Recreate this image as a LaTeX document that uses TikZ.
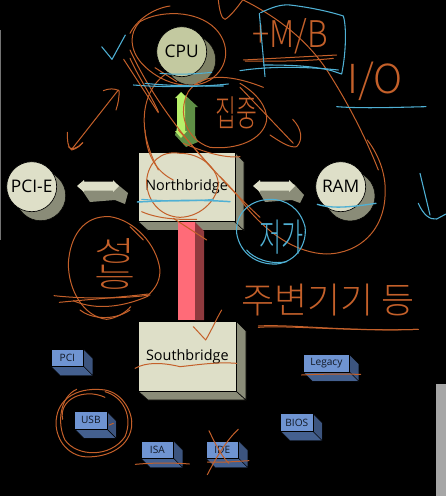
\documentclass[tikz,border=0pt]{standalone}
\usepackage{fontspec}
\setmainfont{Open Sans}
\newfontfamily\cjk{Noto Sans CJK KR Light}
\definecolor{pen}{HTML}{C4602A}
\definecolor{bluepen}{HTML}{4FB0D4}
\definecolor{cream}{HTML}{DEDFC8}
\definecolor{creamdk}{HTML}{8A8C78}
\definecolor{creamcpu}{HTML}{C3C9A0}
\definecolor{cpudk}{HTML}{7F8266}
\definecolor{chipblue}{HTML}{6F94D2}
\definecolor{chipdk}{HTML}{44608F}
\definecolor{redlink}{HTML}{FF6B78}
\definecolor{reddk}{HTML}{8F3A3E}
\definecolor{greenlt}{HTML}{B8F06A}
\definecolor{greendk}{HTML}{5E8F45}
\tikzset{
  orangepen/.style={draw=pen,line width=0.75pt,line cap=round,line join=round},
  bluestroke/.style={draw=bluepen,line width=0.8pt,line cap=round,line join=round},
  handorange/.style={text=pen,inner sep=0pt,font=\cjk},
  handblue/.style={text=bluepen,inner sep=0pt,font=\cjk},
  bigfront/.style={fill=cream,draw=black,line width=0.5pt},
  chipfront/.style={fill=chipblue,draw=black,line width=0.5pt},
  biglabel/.style={inner sep=0pt,font=\fontsize{10.8pt}{12pt}\selectfont,text=black},
  roundlabel/.style={inner sep=0pt,font=\fontsize{13pt}{14pt}\selectfont,text=black},
}
\newcommand{\chip}[6]{% name, x0, y0, x1, y1, text
  \fill[chipdk,draw=black,line width=0.3pt] (#2,#5) -- (#4,#5) -- (#4+9.5,#5+9.5) -- (#2+9.5,#5+9.5) -- cycle;
  \fill[chipdk!88!black,draw=black,line width=0.3pt] (#4,#3) -- (#4+9.5,#3+9.5) -- (#4+9.5,#5+9.5) -- (#4,#5) -- cycle;
  \node[chipfront,minimum width=#4 pt*0.75-#2 pt*0.75,minimum height=#5 pt*0.75-#3 pt*0.75,inner sep=0pt,anchor=north west,text=black!75!chipdk,font=\fontsize{7.6pt}{8pt}\selectfont] (#1) at (#2,#3) {#6};
}
\begin{document}
\begin{tikzpicture}[x=0.75pt,y=-0.75pt]
\useasboundingbox (0,0) rectangle (446,496);
\fill[black] (0,0) rectangle (446,496);
% slide edges
\fill[black!55] (0,30) rectangle (1,240);
\fill[black!35] (435.7,384) rectangle (446,496);
% CPU
\fill[cpudk,draw=black,line width=0.4pt] (190.7,60) circle (25);
\node[circle,fill=creamcpu,draw=black,line width=0.5pt,minimum size=37.5pt,inner sep=0pt,roundlabel] (cpu) at (181.7,51.7) {CPU};
% PCI-E
\fill[creamdk,draw=black,line width=0.4pt] (40.7,195.7) circle (25);
\node[circle,fill=cream,draw=black,line width=0.5pt,minimum size=37.5pt,inner sep=0pt,roundlabel] (pcie) at (31.7,186.7) {PCI-E};
% RAM
\fill[creamdk,draw=black,line width=0.4pt] (350,196) circle (25);
\node[circle,fill=cream,draw=black,line width=0.5pt,minimum size=37.5pt,inner sep=0pt,roundlabel] (ram) at (340.7,186.7) {RAM};
% Northbridge
\fill[creamdk,draw=black,line width=0.4pt] (138,221.5) -- (234.5,221.5) -- (244,230.5) -- (148,230.5) -- cycle;
\fill[creamdk,draw=black,line width=0.4pt] (234.5,152) -- (244,162) -- (244,230.5) -- (234.5,221.5) -- cycle;
\node[bigfront,minimum width=72.4pt,minimum height=52pt,inner sep=0pt,biglabel,anchor=north west] (nb) at (138,152) {Northbridge};
% Southbridge
\fill[creamdk,draw=black,line width=0.4pt] (138,391) -- (236,391) -- (246,400) -- (148,400) -- cycle;
\fill[creamdk,draw=black,line width=0.4pt] (236,321) -- (246,331) -- (246,400) -- (236,391) -- cycle;
\node[bigfront,minimum width=73.5pt,minimum height=52.5pt,inner sep=0pt,biglabel,anchor=north west] (sb) at (138,321) {Southbridge};
% red link
\fill[reddk] (195,222) -- (204,231) -- (204,320) -- (195,320) -- cycle;
\fill[redlink] (178,222) rectangle (195,320);
% green link
\fill[greendk] (185,95) -- (198,107) -- (195,107) -- (195,135) -- (198,142) -- (186,147) -- (175,135) -- cycle;
\fill[greenlt] (181,92) -- (187,98) -- (185,98) -- (185,131) -- (187,131) -- (181,138) -- (175,131) -- (177,131) -- (177,98) -- (175,98) -- cycle;
% PCI-E / NB link
\fill[creamdk] (82,190) -- (90,202) -- (115,200) -- (125,204) -- (128,193) -- (117,184) -- cycle;
\fill[cream] (77,186) -- (84,180) -- (84,181.7) -- (113,181.7) -- (113,180) -- (119,186) -- (113,192) -- (113,190.7) -- (84,190.7) -- (84,192) -- cycle;
% RAM / NB link
\fill[creamdk] (258,190) -- (265,202) -- (292,200) -- (300,203) -- (304,195) -- (294,184) -- cycle;
\fill[cream] (253,186) -- (260,180) -- (260,181.7) -- (289,181.7) -- (289,180) -- (295,186) -- (289,192) -- (289,190.7) -- (260,190.7) -- (260,192) -- cycle;
% chips
\chip{pci}{50.7}{349}{83.3}{366}{PCI}
\chip{usb}{74.3}{411.3}{106.7}{428.7}{USB}
\chip{isa}{140.7}{440.7}{173.3}{458}{ISA}
\chip{ide}{205.7}{440.7}{238.3}{458}{IDE}
\chip{bios}{280.3}{413.3}{312.7}{431}{BIOS}
\chip{legacy}{302.7}{354.3}{349.3}{371.7}{Legacy}
% ------- handwriting, top zone (zoom 1 coordinates)
\begin{scope}[shift={(130,0)},scale=1/3]
\draw[orangepen] (265,0) .. controls (268,30) and (275,58) .. (285,58) .. controls (300,50) and (320,25) .. (338,0);
\draw[orangepen] (340,0) .. controls (420,40) and (530,110) .. (600,225) .. controls (660,320) and (710,420) .. (745,510);
\draw[orangepen] (30,65) .. controls (90,30) and (200,30) .. (255,85) .. controls (300,130) and (300,200) .. (240,240) .. controls (180,275) and (90,250) .. (35,190) .. controls (0,150) and (-5,100) .. (30,65);
\draw[orangepen] (0,100) .. controls (20,60) and (70,25) .. (120,18);
\draw[orangepen] (0,175) .. controls (30,240) and (60,280) .. (85,335);
\draw[orangepen] (0,150) .. controls (60,280) and (150,400) .. (250,510);
\draw[orangepen] (75,203) -- (140,245);
\draw[orangepen] (110,220) .. controls (50,260) and (30,340) .. (50,420) .. controls (60,460) and (75,490) .. (85,510);
\draw[orangepen] (400,262) .. controls (320,230) and (220,210) .. (175,275) .. controls (140,340) and (170,420) .. (240,442) .. controls (320,450) and (400,420) .. (410,360) .. controls (412,320) and (380,280) .. (330,250);
\draw[orangepen] (330,262) -- (490,430);
\draw[orangepen] (420,405) .. controls (450,425) and (480,445) .. (500,440) .. controls (520,420) and (515,385) .. (488,358);
\draw[orangepen] (160,430) .. controls (220,455) and (280,475) .. (330,470);
\node[handorange,font=\cjk\fontsize{17pt}{17pt}\selectfont] (focus) at (320,340) {\scalebox{1}[1.6]{집중}};
% +M/B
\node[handorange,font=\cjk\fontsize{24pt}{24pt}\selectfont] (mb) at (480,110) {\scalebox{1}[1.15]{+M/B}};
\draw[orangepen] (340,180) -- (620,165);
\draw[orangepen] (345,183) .. controls (450,185) and (550,182) .. (610,175);
\node[handorange,font=\cjk\fontsize{30pt}{30pt}\selectfont] (io) at (735,245) {I/O};
% blue
\draw[bluestroke] (388,40) -- (405,230);
\draw[bluestroke] (392,38) .. controls (420,25) and (450,12) .. (480,15) .. controls (540,22) and (600,35) .. (640,48) .. controls (650,80) and (648,160) .. (635,222) -- (605,212) .. controls (540,196) and (470,195) .. (400,195);
\draw[bluestroke] (330,212) .. controls (420,198) and (530,200) .. (625,210);
\draw[bluestroke] (10,255) .. controls (100,262) and (200,262) .. (295,252);
\draw[bluestroke] (45,250) .. controls (120,258) and (200,258) .. (280,258);
\draw[bluestroke] (90,220) .. controls (140,225) and (200,222) .. (245,217);
\draw[bluestroke] (620,320) .. controls (700,326) and (800,322) .. (888,320);
\end{scope}
% ------- zoom 5 coordinates
\begin{scope}[shift={(50,0)},scale=1/3]
\draw[bluestroke] (155,140) -- (186,178) -- (226,105);
\draw[orangepen] (65,448) -- (205,270);
\draw[orangepen] (160,272) .. controls (175,265) and (195,265) .. (207,272) .. controls (208,290) and (205,310) .. (198,330);
\draw[orangepen] (52,397) .. controls (52,420) and (52,440) .. (65,450) .. controls (78,447) and (90,438) .. (98,428);
\draw[orangepen] (221,178) -- (325,338);
\end{scope}
% ------- Northbridge circle, zoom 6 coordinates
\begin{scope}[shift={(130,130)},scale=1/3]
\draw[orangepen] (130,150) .. controls (90,130) and (50,90) .. (45,0);
\draw[orangepen] (150,70) .. controls (90,60) and (55,100) .. (50,150) .. controls (48,210) and (90,260) .. (150,262) .. controls (220,260) and (265,200) .. (265,160) .. controls (260,110) and (210,70) .. (150,70);
\draw[orangepen] (35,245) .. controls (80,265) and (140,270) .. (200,268);
\draw[orangepen] (145,0) .. controls (200,60) and (280,160) .. (390,262);
\draw[orangepen] (0,290) -- (40,330);
\draw[orangepen] (130,265) -- (230,330);
\draw[bluestroke,line width=1.1pt] (22,216) .. controls (110,212) and (200,208) .. (300,215);
\draw[bluestroke] (35,208) .. controls (110,214) and (190,214) .. (250,208);
\end{scope}
% ------- zoom 2 coordinates: left circle
\begin{scope}[shift={(0,140)},scale=1/3]
\draw[orangepen] (205,20) .. controls (210,32) and (235,25) .. (248,8);
\draw[orangepen] (330,230) .. controls (250,225) and (210,290) .. (205,370) .. controls (205,450) and (250,530) .. (320,538) .. controls (350,535) and (380,515) .. (392,500);
\draw[orangepen] (330,230) .. controls (400,240) and (470,310) .. (480,390) .. controls (480,430) and (460,450) .. (445,465);
\draw[orangepen] (162,467) .. controls (260,478) and (380,475) .. (450,465);
\draw[orangepen] (178,487) .. controls (270,478) and (380,470) .. (445,462);
\draw[orangepen] (220,482) .. controls (270,505) and (350,510) .. (445,468);
\node[handorange,font=\cjk\fontsize{21pt}{21pt}\selectfont,align=center] (perf) at (345,372) {\scalebox{1.6}[1]{성}\\[-2pt]\scalebox{1.6}[1]{능}};
\end{scope}
% ------- zoom 3 coordinates
\begin{scope}[shift={(220,140)},scale=1/3]
\draw[orangepen] (442,0) .. controls (480,50) and (500,110) .. (495,170) .. controls (490,270) and (420,340) .. (320,342) .. controls (230,340) and (140,280) .. (70,190) .. controls (50,160) and (20,130) .. (0,110);
\draw[bluestroke] (150,178) .. controls (80,180) and (45,230) .. (50,280) .. controls (60,340) and (110,375) .. (170,372) .. controls (230,365) and (262,310) .. (255,260) .. controls (240,205) and (200,178) .. (150,178);
\draw[bluestroke] (80,330) .. controls (100,355) and (150,375) .. (200,365);
\draw[bluestroke,line width=1pt] (292,193) .. controls (340,208) and (400,200) .. (468,190);
\draw[bluestroke] (600,100) -- (630,225);
\draw[bluestroke] (595,190) .. controls (610,225) and (630,240) .. (650,237) -- (678,222);
\node[handblue,font=\cjk\fontsize{18pt}{18pt}\selectfont] (cheap) at (185,290) {\scalebox{1}[1.6]{저가}};
\node[handorange,font=\cjk\fontsize{27pt}{27pt}\selectfont] (periph) at (325,480) {주변기기 등};
\draw[orangepen] (115,562) .. controls (200,555) and (400,575) .. (595,568);
\end{scope}
% ------- zoom 4 coordinates
\begin{scope}[shift={(30,310)},scale=1/3]
\draw[orangepen] (150,0) .. controls (180,25) and (250,35) .. (300,0);
\draw[orangepen] (490,50) -- (527,90) .. controls (545,60) and (560,25) .. (575,0);
\draw[orangepen] (315,175) .. controls (350,155) and (400,158) .. (450,170) .. controls (500,165) and (560,155) .. (620,160);
\draw[orangepen] (685,48) .. controls (780,42) and (950,65) .. (1165,58);
\draw[orangepen] (815,195) .. controls (870,192) and (930,192) .. (992,193);
\draw[orangepen] (316,463) .. controls (370,458) and (430,458) .. (478,462);
\draw[orangepen] (532,456) .. controls (570,458) and (610,455) .. (657,452);
\draw[orangepen] (537,362) .. controls (555,400) and (575,440) .. (597,460);
\draw[orangepen] (625,358) .. controls (590,390) and (560,440) .. (532,494);
\draw[orangepen] (238,345) -- (250,340);
\draw[orangepen] (98,328) .. controls (85,270) and (160,232) .. (225,262);
\draw[orangepen] (225,240) .. controls (280,250) and (310,310) .. (305,350) .. controls (295,420) and (220,445) .. (160,440) .. controls (100,430) and (70,370) .. (80,320) .. controls (90,260) and (150,230) .. (225,240);
\draw[orangepen] (140,238) .. controls (90,260) and (80,340) .. (105,390) .. controls (140,440) and (240,445) .. (285,380) .. controls (310,320) and (280,260) .. (225,245);
\end{scope}
\end{tikzpicture}
\end{document}
